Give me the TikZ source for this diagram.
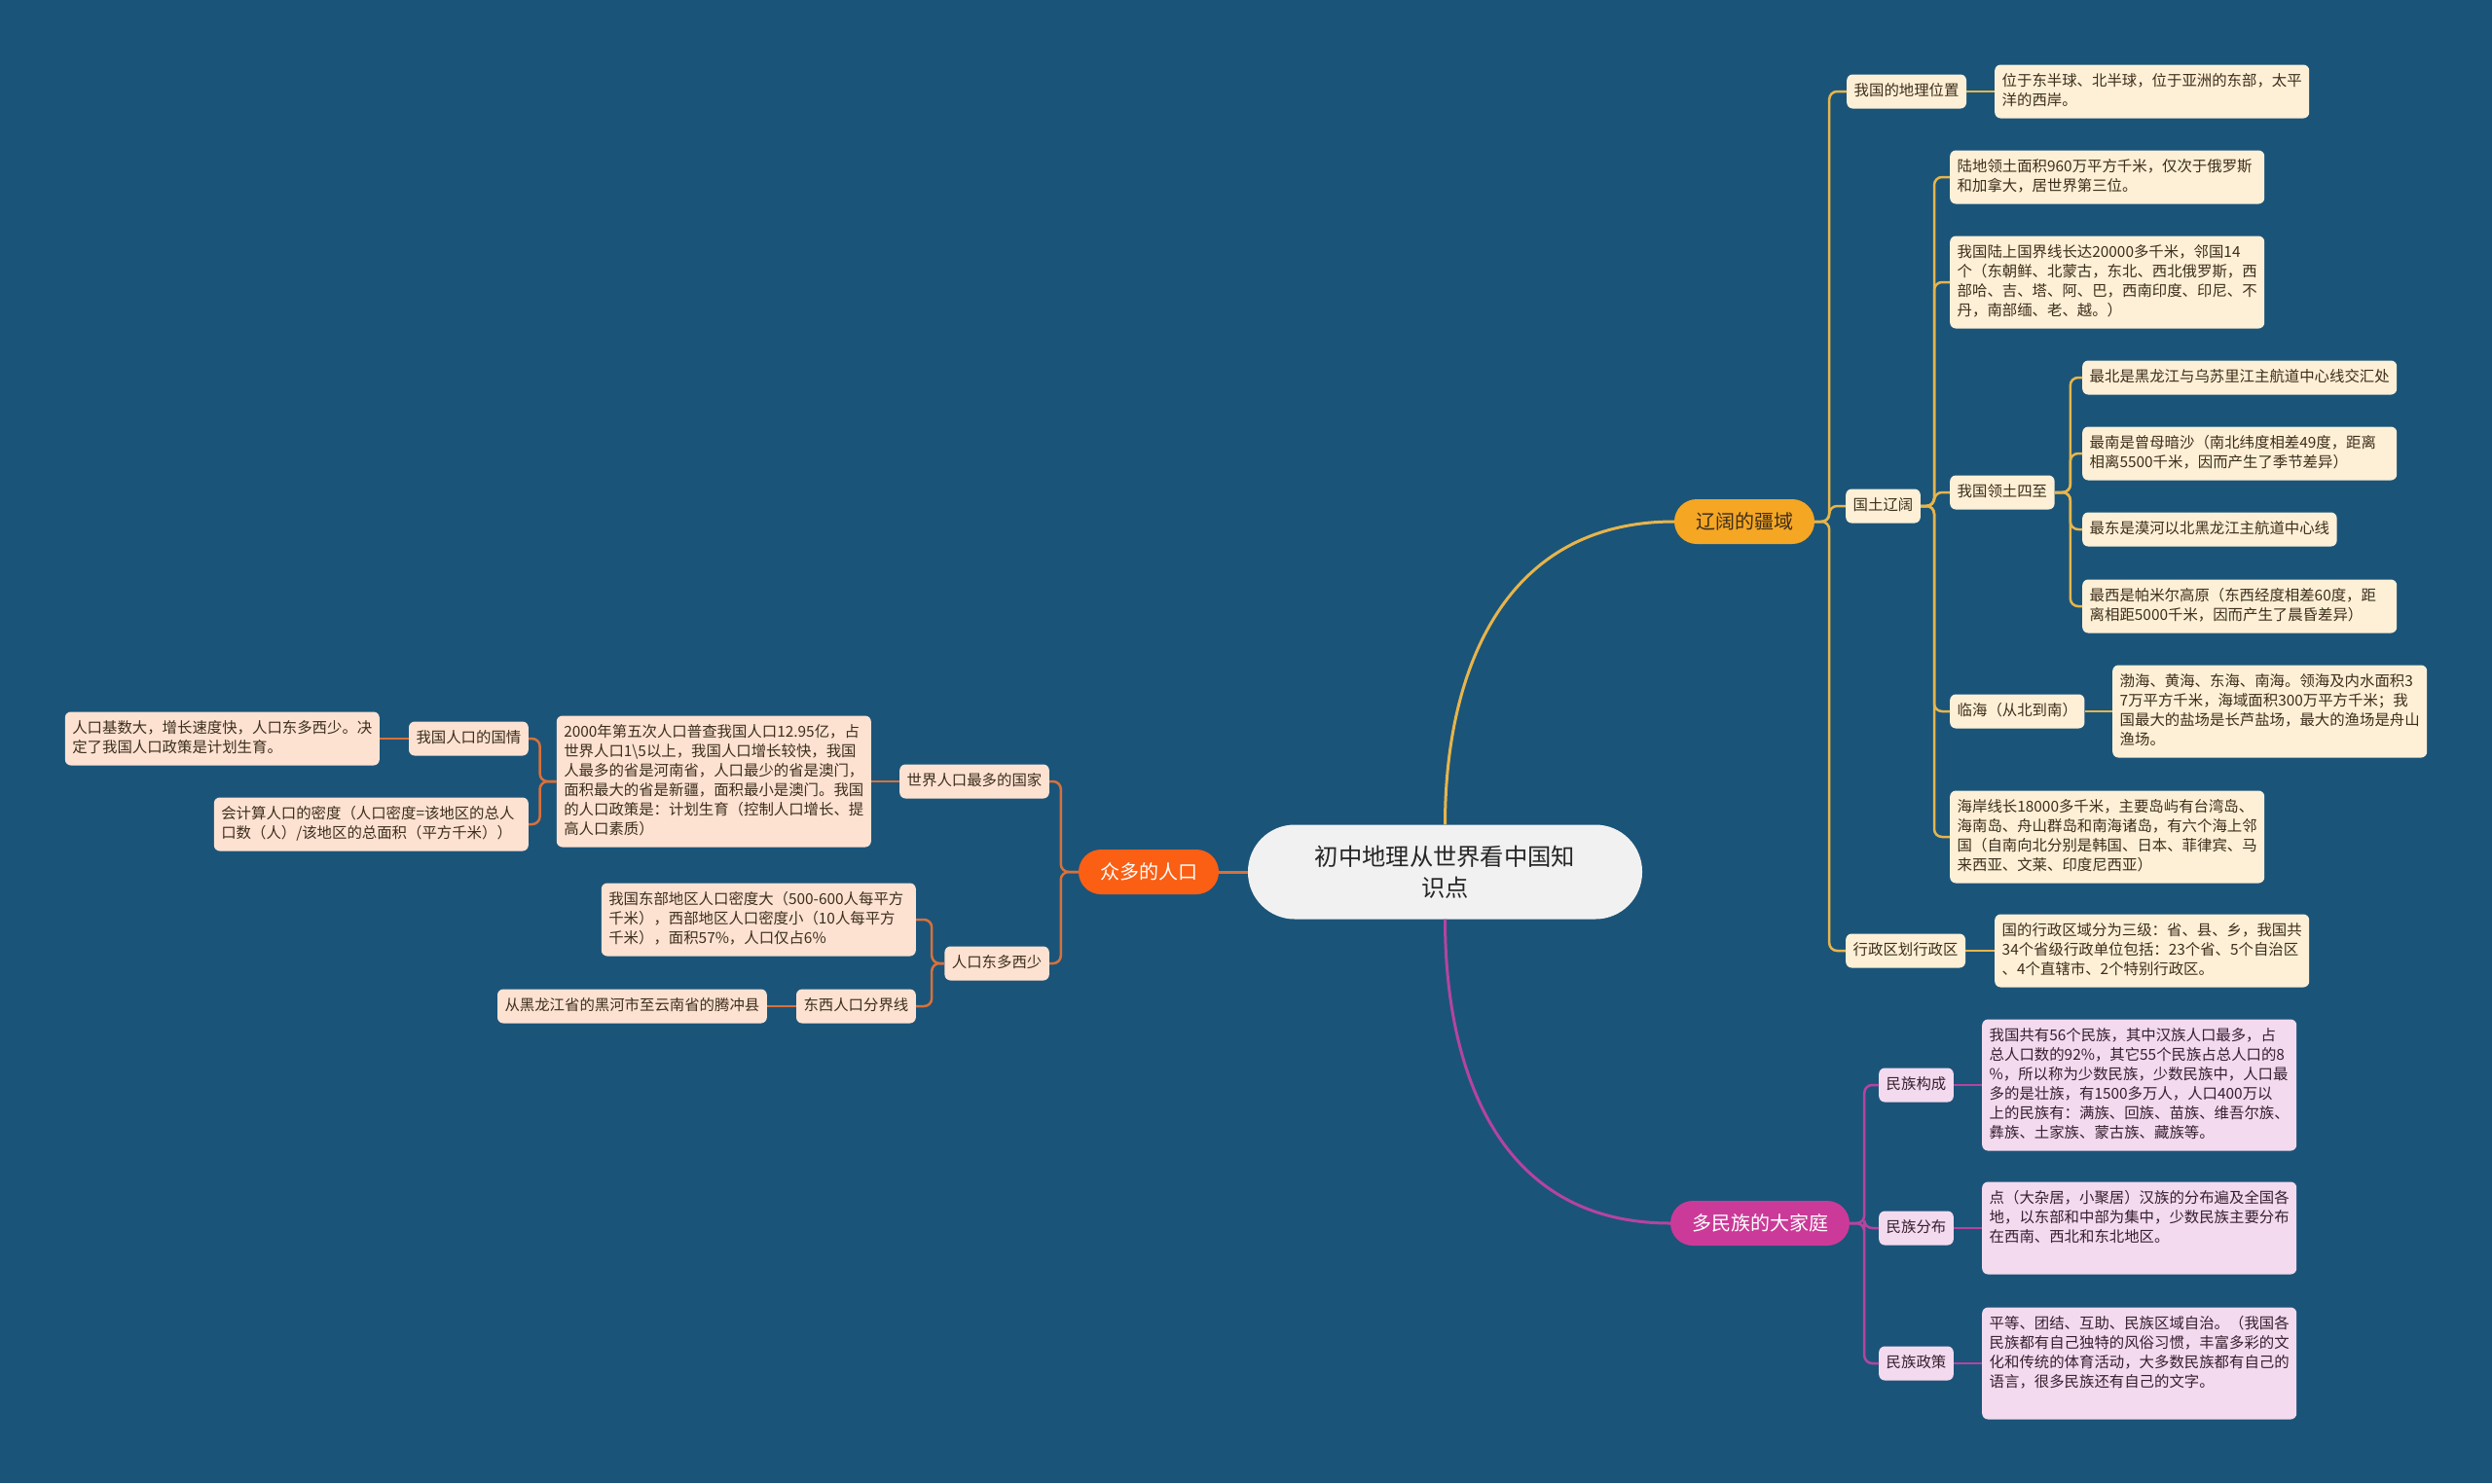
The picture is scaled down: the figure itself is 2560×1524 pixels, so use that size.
\documentclass[tikz,border=0pt]{standalone}
\usepackage{fontspec}
\setmainfont{Noto Sans CJK SC}
\usepackage{tikz}
\usetikzlibrary{positioning}
\definecolor{bgblue}{HTML}{1B5479}
\definecolor{goldx}{HTML}{E6B54C}
\definecolor{goldmain}{HTML}{F5A623}
\definecolor{creamx}{HTML}{FDF0D6}
\definecolor{orangex}{HTML}{D8713A}
\definecolor{orangemain}{HTML}{FA5F14}
\definecolor{peachx}{HTML}{FDE2D2}
\definecolor{magx}{HTML}{B5449F}
\definecolor{magmain}{HTML}{CB3A98}
\definecolor{pinkx}{HTML}{F4DAEE}
\definecolor{rootbg}{HTML}{F1F1F1}
\definecolor{inkx}{HTML}{3D2E1C}
\definecolor{inkm}{HTML}{35202F}
\tikzset{
  gline/.style={draw=goldx,line width=2.5pt,rounded corners=8pt},
  oline/.style={draw=orangex,line width=2.5pt,rounded corners=8pt},
  mline/.style={draw=magx,line width=2.5pt,rounded corners=8pt},
  box/.style={rounded corners=6pt,inner xsep=7.5pt,inner ysep=7.5pt,
    font=\fontsize{15.4}{20}\selectfont,
    execute at begin node=\strut,execute at end node=\strut},
  wide/.style={text width=308pt,align=left},
  gbox/.style={box,fill=creamx,text=inkx,anchor=west},
  obox/.style={box,fill=peachx,text=inkx,anchor=east},
  mbox/.style={box,fill=pinkx,text=inkm,anchor=west},
  topic/.style={rounded corners=23pt,minimum height=46pt,inner xsep=22pt,
    font=\fontsize{20}{24}\selectfont}
}
\begin{document}
\begin{tikzpicture}[x=1pt,y=-1pt]
\fill[bgblue] (0,0) rectangle (2560,1524);

\node[fill=rootbg,text=black!85,rounded corners=48pt,minimum width=405pt,minimum height=97pt,
  text width=292pt,align=center,font=\fontsize{24.3}{32}\selectfont] (root) at (1484.5,896)
  {初中地理从世界看中国知\\识点};

% 辽阔的疆域
\node[topic,fill=goldmain,text=inkx] (jiangyu) at (1792,536) {辽阔的疆域};
\node[gbox] (weizhi) at (1897,94) {我国的地理位置};
\node[gbox,wide] (weizhiTxt) at (2049,94) {位于东半球、北半球，位于亚洲的东部，太平\\洋的西岸。};
\node[gbox] (guotu) at (1896,520) {国土辽阔};
\node[gbox,wide] (mianji) at (2003,182) {陆地领土面积960万平方千米，仅次于俄罗斯\\和加拿大，居世界第三位。};
\node[gbox,wide] (guojie) at (2003,290) {我国陆上国界线长达20000多千米，邻国14\\个（东朝鲜、北蒙古，东北、西北俄罗斯，西\\部哈、吉、塔、阿、巴，西南印度、印尼、不\\丹，南部缅、老、越。）};
\node[gbox] (sizhi) at (2003,506) {我国领土四至};
\node[gbox] (jibei) at (2139,388) {最北是黑龙江与乌苏里江主航道中心线交汇处};
\node[gbox,wide] (jinan) at (2139,466) {最南是曾母暗沙（南北纬度相差49度，距离\\相离5500千米，因而产生了季节差异）};
\node[gbox] (jidong) at (2139,544) {最东是漠河以北黑龙江主航道中心线};
\node[gbox,wide] (jixi) at (2139,623) {最西是帕米尔高原（东西经度相差60度，距\\离相距5000千米，因而产生了晨昏差异）};
\node[gbox] (linhai) at (2003,731) {临海（从北到南）};
\node[gbox,wide] (linhaiTxt) at (2170,731) {渤海、黄海、东海、南海。领海及内水面积3\\7万平方千米，海域面积300万平方千米；我\\国最大的盐场是长芦盐场，最大的渔场是舟山\\渔场。};
\node[gbox,wide] (haian) at (2003,860) {海岸线长18000多千米，主要岛屿有台湾岛、\\海南岛、舟山群岛和南海诸岛，有六个海上邻\\国（自南向北分别是韩国、日本、菲律宾、马\\来西亚、文莱、印度尼西亚）};
\node[gbox] (xingzheng) at (1896,977) {行政区划行政区};
\node[gbox,wide] (xingzhengTxt) at (2049,977) {国的行政区域分为三级：省、县、乡，我国共\\34个省级行政单位包括：23个省、5个自治区\\、4个直辖市、2个特别行政区。};

\draw[gline,line width=3pt] (root.north) .. controls +(0,-150) and +(-180,0) .. (jiangyu.west);
\foreach \c in {weizhi,guotu,xingzheng}
  \draw[gline] (jiangyu.east) -- ++(15,0) |- (\c.west);
\draw[gline] (weizhi.east) -- (weizhiTxt.west);
\foreach \c in {mianji,guojie,sizhi,linhai,haian}
  \draw[gline] (guotu.east) -- ++(14,0) |- (\c.west);
\foreach \c in {jibei,jinan,jidong,jixi}
  \draw[gline] (sizhi.east) -- ++(16,0) |- (\c.west);
\draw[gline] (linhai.east) -- (linhaiTxt.west);
\draw[gline] (xingzheng.east) -- (xingzhengTxt.west);

% 多民族的大家庭
\node[topic,fill=magmain,text=white] (minzu) at (1808,1257) {多民族的大家庭};
\node[mbox] (goucheng) at (1930,1115) {民族构成};
\node[mbox,wide] (gouchengTxt) at (2036,1115) {我国共有56个民族，其中汉族人口最多，占\\总人口数的92\%，其它55个民族占总人口的8\\\%，所以称为少数民族，少数民族中，人口最\\多的是壮族，有1500多万人，人口400万以\\上的民族有：满族、回族、苗族、维吾尔族、\\彝族、土家族、蒙古族、藏族等。};
\node[mbox] (fenbu) at (1930,1262) {民族分布};
\node[mbox,wide] (fenbuTxt) at (2036,1262) {点（大杂居，小聚居）汉族的分布遍及全国各\\地，以东部和中部为集中，少数民族主要分布\\在西南、西北和东北地区。\\~};
\node[mbox] (zhengce) at (1930,1401) {民族政策};
\node[mbox,wide] (zhengceTxt) at (2036,1401) {平等、团结、互助、民族区域自治。（我国各\\民族都有自己独特的风俗习惯，丰富多彩的文\\化和传统的体育活动，大多数民族都有自己的\\语言，很多民族还有自己的文字。\\~};

\draw[mline,line width=3pt] (root.south) .. controls +(0,150) and +(-180,0) .. (minzu.west);
\foreach \c in {goucheng,fenbu,zhengce}
  \draw[mline] (minzu.east) -- ++(15,0) |- (\c.west);
\draw[mline] (goucheng.east) -- (gouchengTxt.west);
\draw[mline] (fenbu.east) -- (fenbuTxt.west);
\draw[mline] (zhengce.east) -- (zhengceTxt.west);

% 众多的人口
\node[topic,fill=orangemain,text=white] (renkou) at (1180,896) {众多的人口};
\node[obox] (zuiduo) at (1078,803) {世界人口最多的国家};
\node[obox,wide] (pucha) at (895,803) {2000年第五次人口普查我国人口12.95亿，占\\世界人口1\textbackslash5以上，我国人口增长较快，我国\\人最多的省是河南省，人口最少的省是澳门，\\面积最大的省是新疆，面积最小是澳门。我国\\的人口政策是：计划生育（控制人口增长、提\\高人口素质）};
\node[obox] (guoqing) at (543,759) {我国人口的国情};
\node[obox,wide] (guoqingTxt) at (390,759) {人口基数大，增长速度快，人口东多西少。决\\定了我国人口政策是计划生育。};
\node[obox,wide] (midu) at (543,847) {会计算人口的密度（人口密度=该地区的总人\\口数（人）/该地区的总面积（平方千米））};
\node[obox] (dongduo) at (1078,990) {人口东多西少};
\node[obox,wide] (dongxi) at (941,945) {我国东部地区人口密度大（500-600人每平方\\千米），西部地区人口密度小（10人每平方\\千米），面积57\%，人口仅占6\%};
\node[obox] (fenjie) at (941,1034) {东西人口分界线};
\node[obox] (fenjieTxt) at (788,1034) {从黑龙江省的黑河市至云南省的腾冲县};

\draw[oline,line width=3pt] (root.west) -- (renkou.east);
\foreach \c in {zuiduo,dongduo}
  \draw[oline] (renkou.west) -- ++(-18,0) |- (\c.east);
\draw[oline] (zuiduo.west) -- (pucha.east);
\foreach \c in {guoqing,midu}
  \draw[oline] (pucha.west) -- ++(-17,0) |- (\c.east);
\draw[oline] (guoqing.west) -- (guoqingTxt.east);
\foreach \c in {dongxi,fenjie}
  \draw[oline] (dongduo.west) -- ++(-13,0) |- (\c.east);
\draw[oline] (fenjie.west) -- (fenjieTxt.east);
\end{tikzpicture}
\end{document}
